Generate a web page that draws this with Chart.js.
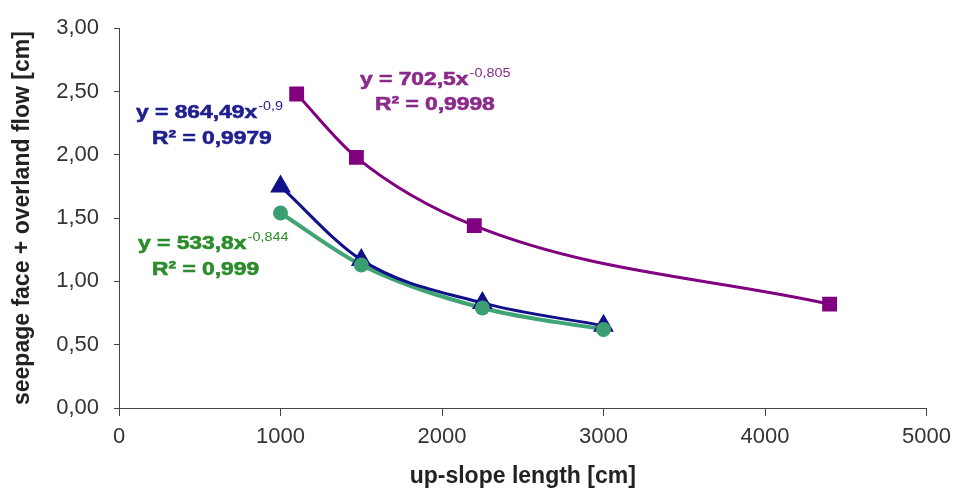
<!DOCTYPE html>
<html>
<head>
<meta charset="utf-8">
<script src="https://cdn.jsdelivr.net/npm/chart.js@4"></script>
<style>body{margin:0;background:#fff}</style>
</head>
<body>
<canvas id="grafico" width="959" height="495"></canvas>
<script>
// valores
const xPurple = [1100, 1470, 2200, 4400];
const yPurple = [2.48, 1.98, 1.44, 0.82];
const xBlue = [1000, 1500, 2250, 3000];
const yBlue = [1.75, 1.17, 0.83, 0.65];
const xGreen = [1000, 1500, 2250, 3000];
const yGreen = [1.54, 1.13, 0.79, 0.62];
const xTicks = ['0', '1000', '2000', '3000', '4000', '5000'];
const yTicks = ['0,00', '0,50', '1,00', '1,50', '2,00', '2,50', '3,00'];

const FONT = 'Arial, "Liberation Sans", sans-serif';
Chart.defaults.font.family = FONT;

const pts = (xs, ys) => xs.map((x, i) => ({ x: x, y: ys[i] }));

// ecuaciones de ajuste (texto)
const labels = [
  { eq: 'y = 864,49x', sup: '-0,9', r2: 'R\u00b2 = 0,9979', color: '#1f1f8e', x1: 136, y1: 118, x2: 152, y2: 144 },
  { eq: 'y = 702,5x', sup: '-0,805', r2: 'R\u00b2 = 0,9998', color: '#8a2a8a', x1: 360, y1: 85, x2: 375, y2: 110 },
  { eq: 'y = 533,8x', sup: '-0,844', r2: 'R\u00b2 = 0,999', color: '#2a8c2a', x1: 138, y1: 249, x2: 152, y2: 275 }
];

function boldText(ctx, txt, x, y) {
  ctx.fillText(txt, x, y);
  ctx.strokeText(txt, x, y);
}

const labelPlugin = {
  id: 'ecuaciones',
  afterDatasetsDraw(chart) {
    const ctx = chart.ctx;
    labels.forEach(l => {
      ctx.save();
      ctx.fillStyle = l.color;
      ctx.strokeStyle = l.color;
      ctx.lineWidth = 0.6;
      ctx.textBaseline = 'alphabetic';
      ctx.translate(l.x1, l.y1);
      ctx.scale(1.2, 1);
      ctx.font = 'bold 19px ' + FONT;
      boldText(ctx, l.eq, 0, 0);
      const w = ctx.measureText(l.eq).width;
      ctx.font = '12px ' + FONT;
      ctx.fillText(l.sup, w + 1, -8);
      ctx.restore();

      ctx.save();
      ctx.fillStyle = l.color;
      ctx.strokeStyle = l.color;
      ctx.lineWidth = 0.6;
      ctx.translate(l.x2, l.y2);
      ctx.scale(1.2, 1);
      ctx.font = 'bold 19px ' + FONT;
      boldText(ctx, l.r2, 0, 0);
      ctx.restore();
    });
  }
};

new Chart(document.getElementById('grafico'), {
  type: 'scatter',
  data: {
    datasets: [
      { data: pts(xGreen, yGreen), pointStyle: 'circle', pointRadius: 7.5, backgroundColor: '#3a9e70', borderColor: '#3a9e70', borderWidth: 0, order: 1 },
      { data: pts(xBlue, yBlue), pointStyle: 'triangle', pointRadius: 12, backgroundColor: '#10108a', borderColor: '#10108a', borderWidth: 0, order: 2 },
      { data: pts(xPurple, yPurple), pointStyle: 'rect', pointRadius: 10.5, backgroundColor: '#800080', borderColor: '#800080', borderWidth: 0, order: 3 },
      { type: 'line', data: pts(xBlue, yBlue), showLine: true, pointRadius: 0, borderColor: '#10108a', borderWidth: 3, cubicInterpolationMode: 'monotone', fill: false, order: 4 },
      { type: 'line', data: pts(xGreen, yGreen), showLine: true, pointRadius: 0, borderColor: '#40a474', borderWidth: 4, cubicInterpolationMode: 'monotone', fill: false, order: 5 },
      { type: 'line', data: pts(xPurple, yPurple), showLine: true, pointRadius: 0, borderColor: '#800080', borderWidth: 3, cubicInterpolationMode: 'monotone', fill: false, order: 6 }
    ]
  },
  options: {
    responsive: false,
    animation: false,
    layout: { padding: { top: 16, right: 32, left: 0, bottom: 0 } },
    plugins: { legend: { display: false }, tooltip: { enabled: false } },
    scales: {
      x: {
        type: 'linear', min: 0, max: 5000,
        ticks: { stepSize: 1000, color: '#333', font: { size: 22 }, padding: 8, maxRotation: 0,
          callback: (v, i) => xTicks[i] },
        grid: { drawOnChartArea: false, drawTicks: true, tickLength: 8, color: '#444' },
        border: { color: '#444', width: 1 },
        title: { display: true, text: 'up-slope length [cm]', color: '#222',
          font: { size: 23, weight: 'bold' }, padding: { top: 0, bottom: 5 } },
        afterFit(s) { s.height = 87; }
      },
      y: {
        type: 'linear', min: 0, max: 3,
        ticks: { stepSize: 0.5, color: '#333', font: { size: 22 }, padding: 15,
          callback: (v, i) => yTicks[i] },
        grid: { drawOnChartArea: false, drawTicks: true, tickLength: 5, color: '#444' },
        border: { color: '#444', width: 1 },
        title: { display: true, text: 'seepage face + overland flow [cm]', color: '#222',
          font: { size: 23, weight: 'bold' }, padding: { top: 9, bottom: 0 } },
        afterFit(s) { s.width = 119; }
      }
    }
  },
  plugins: [labelPlugin]
});
</script>
</body>
</html>
